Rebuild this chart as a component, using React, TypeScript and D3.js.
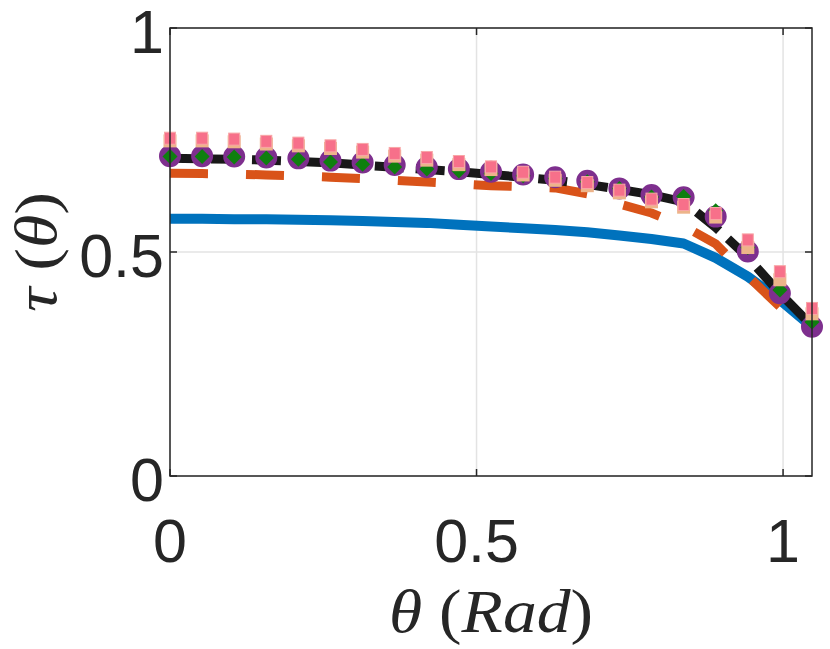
import React from 'react';
import * as d3 from 'd3';

// theta sample points (rad)
const theta = [0, 0.0524, 0.1047, 0.1571, 0.2094, 0.2618, 0.3142, 0.3665, 0.4189, 0.4712, 0.5236, 0.576, 0.6283, 0.6807, 0.733, 0.7854, 0.8378, 0.8901, 0.9425, 0.9948, 1.0472];

const blueSeries = [0.574, 0.574, 0.573, 0.573, 0.572, 0.571, 0.569, 0.567, 0.565, 0.561, 0.557, 0.553, 0.549, 0.544, 0.537, 0.529, 0.519, 0.487, 0.445, 0.393, 0.333];
const orangeSeries = [0.676, 0.675, 0.674, 0.672, 0.670, 0.667, 0.664, 0.660, 0.656, 0.652, 0.648, 0.646, 0.643, 0.630, 0.607, 0.587, 0.558, 0.518, 0.446, 0.378, 0.325];
const blackSeries = [0.709, 0.708, 0.707, 0.705, 0.702, 0.699, 0.694, 0.689, 0.684, 0.679, 0.673, 0.667, 0.660, 0.651, 0.640, 0.628, 0.612, 0.555, 0.488, 0.408, 0.335];
const circleSeries = [0.714, 0.714, 0.713, 0.711, 0.709, 0.704, 0.700, 0.694, 0.689, 0.685, 0.679, 0.673, 0.667, 0.659, 0.642, 0.627, 0.622, 0.579, 0.501, 0.408, 0.333];
const diamondSeries = [0.713, 0.713, 0.712, 0.710, 0.707, 0.701, 0.696, 0.690, 0.685, 0.681, 0.675, 0.670, 0.664, 0.657, 0.642, 0.623, 0.624, 0.592, 0.510, 0.415, 0.344];
const tanSeries = [0.748, 0.748, 0.746, 0.741, 0.737, 0.731, 0.723, 0.714, 0.705, 0.695, 0.684, 0.672, 0.660, 0.648, 0.632, 0.612, 0.600, 0.578, 0.510, 0.438, 0.362];
const pinkSeries = [0.754, 0.754, 0.752, 0.747, 0.743, 0.737, 0.729, 0.720, 0.711, 0.702, 0.690, 0.678, 0.667, 0.655, 0.638, 0.618, 0.606, 0.586, 0.527, 0.456, 0.374];

const xTicks = [0, 0.5, 1];
const yTicks = [0, 0.5, 1];
const xTickLabels = ['0', '0.5', '1'];
const yTickLabels = ['0', '0.5', '1'];

const W = 830;
const H = 649;
const margin = { left: 170, right: 18, top: 28, bottom: 173 };

export default function App() {
  const x = d3.scaleLinear().domain([0, 1.0472]).range([margin.left, W - margin.right]);
  const y = d3.scaleLinear().domain([0, 1]).range([H - margin.bottom, margin.top]);
  const line = d3
    .line<number>()
    .x((_, i) => x(theta[i]))
    .y((d) => y(d));

  const x0 = x.range()[0];
  const x1 = x.range()[1];
  const y0 = y.range()[0];
  const y1 = y.range()[1];
  const axisColor = '#262626';
  const gridColor = '#e3e3e3';
  const tickFont = "'Liberation Sans', Arial, sans-serif";
  const mathFont = "'Liberation Serif', 'DejaVu Serif', serif";

  return (
    <svg
      width={W}
      height={H}
      viewBox={`0 0 ${W} ${H}`}
      style={{ position: 'absolute', left: 0, top: 0, display: 'block', background: '#fff' }}
    >
      <rect x={0} y={0} width={W} height={H} fill="#fff" />
      {/* grid */}
      {xTicks.map((t) => (
        <line key={'gx' + t} x1={x(t)} x2={x(t)} y1={y0} y2={y1} stroke={gridColor} strokeWidth={1.5} />
      ))}
      {yTicks.map((t) => (
        <line key={'gy' + t} x1={x0} x2={x1} y1={y(t)} y2={y(t)} stroke={gridColor} strokeWidth={1.5} />
      ))}

      {/* lines */}
      <path d={line(blueSeries) || ''} fill="none" stroke="#0072BD" strokeWidth={10} strokeLinejoin="round" />
      <path d={line(orangeSeries) || ''} fill="none" stroke="#D95319" strokeWidth={9} strokeDasharray="38 38" />
      <path d={line(blackSeries) || ''} fill="none" stroke="#181818" strokeWidth={9} strokeDasharray="29 12" />

      {/* markers */}
      {circleSeries.map((v, i) => (
        <circle key={'c' + i} cx={x(theta[i])} cy={y(v)} r={9.5} fill="#7E2F8E" stroke="#7E2F8E" strokeWidth={3} />
      ))}
      {diamondSeries.map((v, i) => {
        const cx = x(theta[i]);
        const cy = y(v);
        const s = 7.5;
        return (
          <path
            key={'d' + i}
            d={`M${cx},${cy - s}L${cx + s},${cy}L${cx},${cy + s}L${cx - s},${cy}Z`}
            fill="#0E7F0E"
          />
        );
      })}
      {tanSeries.map((v, i) => (
        <rect key={'t' + i} x={x(theta[i]) - 6.5} y={y(v) - 6.5} width={13} height={13} fill="#EDB48A" />
      ))}
      {pinkSeries.map((v, i) => (
        <rect
          key={'p' + i}
          x={x(theta[i]) - 5.5}
          y={y(v) - 6}
          width={11}
          height={12}
          fill="#F7708A"
          stroke="#F8A6A6"
          strokeWidth={1}
        />
      ))}

      {/* axes box */}
      <rect x={x0} y={y1} width={x1 - x0} height={y0 - y1} fill="none" stroke={axisColor} strokeWidth={1.5} />
      {/* ticks */}
      {xTicks.map((t) => (
        <g key={'tx' + t}>
          <line x1={x(t)} x2={x(t)} y1={y0} y2={y0 - 7} stroke={axisColor} strokeWidth={1.5} />
          <line x1={x(t)} x2={x(t)} y1={y1} y2={y1 + 7} stroke={axisColor} strokeWidth={1.5} />
        </g>
      ))}
      {yTicks.map((t) => (
        <g key={'ty' + t}>
          <line x1={x0} x2={x0 + 7} y1={y(t)} y2={y(t)} stroke={axisColor} strokeWidth={1.5} />
          <line x1={x1} x2={x1 - 7} y1={y(t)} y2={y(t)} stroke={axisColor} strokeWidth={1.5} />
        </g>
      ))}

      {/* tick labels */}
      {xTicks.map((t, i) => (
        <text key={'lx' + t} x={x(t)} y={y0 + 86} textAnchor="middle" fontFamily={tickFont} fontSize={61} fill={axisColor}>
          {xTickLabels[i]}
        </text>
      ))}
      {yTicks.map((t, i) => (
        <text key={'ly' + t} x={x0 - 6} y={y(t) + 25} textAnchor="end" fontFamily={tickFont} fontSize={61} fill={axisColor}>
          {yTickLabels[i]}
        </text>
      ))}

      {/* axis labels */}
      <text
        x={(x0 + x1) / 2}
        y={632}
        textAnchor="middle"
        fontFamily={mathFont}
        fontSize={62}
        fill={axisColor}
        textLength={204}
        lengthAdjust="spacingAndGlyphs"
      >
        <tspan fontStyle="italic">θ</tspan>
        <tspan> (</tspan>
        <tspan fontStyle="italic">Rad</tspan>
        <tspan>)</tspan>
      </text>
      <text
        transform={`translate(56, ${(y0 + y1) / 2}) rotate(-90)`}
        textAnchor="middle"
        fontFamily={mathFont}
        fontSize={60}
        fill={axisColor}
        textLength={120}
        lengthAdjust="spacingAndGlyphs"
      >
        <tspan fontStyle="italic">τ</tspan>
        <tspan> (</tspan>
        <tspan fontStyle="italic">θ</tspan>
        <tspan>)</tspan>
      </text>
    </svg>
  );
}
